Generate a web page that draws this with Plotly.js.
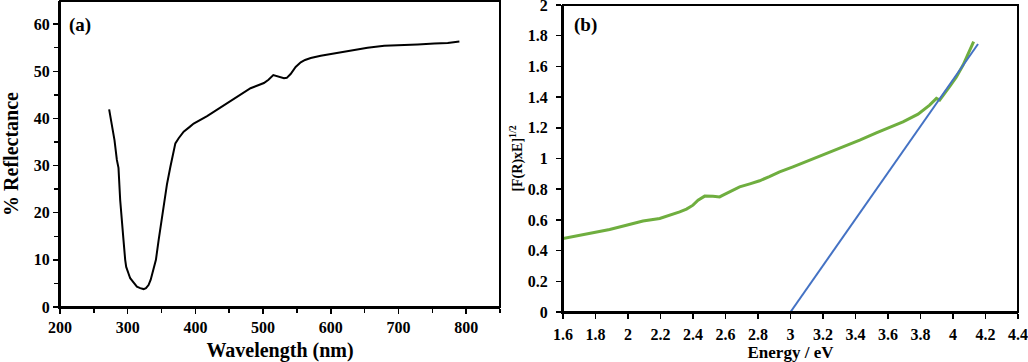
<!DOCTYPE html>
<html>
<head>
<meta charset="utf-8">
<script src="https://cdn.plot.ly/plotly-3.0.1.min.js"></script>
<style>html,body{margin:0;padding:0;background:#fff;}#chart{width:1028px;height:362px;}</style>
</head>
<body>
<div id="chart"></div>
<script>
// Panel (a): diffuse reflectance spectrum
const wavelength = [272.6, 280.5, 284, 286.4, 288.9, 290.5, 293.8, 296.3, 297.8, 301.2, 303.7, 308.6, 313.6, 318.5, 323.5, 327, 330.8, 334, 338.2, 341.7, 345.7, 349.5, 353, 358, 363, 367, 370.4, 375.3, 382.7, 391.6, 397.5, 417.3, 446.9, 466.7, 481.5, 501.2, 508, 515.1, 523.5, 530.9, 535, 540.7, 548.1, 555.6, 562, 570.4, 585.2, 604.9, 629.6, 654.3, 679, 703.7, 728.4, 753.1, 772.8, 790];
const reflectance = [41.9, 35.4, 31.2, 29.5, 22.7, 19.2, 14.2, 10.0, 8.5, 7.1, 6.1, 5.2, 4.3, 4.0, 3.8, 4.0, 4.66, 5.8, 7.8, 10.0, 14.2, 17.8, 21.3, 26.0, 29.7, 32.8, 34.7, 35.8, 37.2, 38.2, 38.9, 40.5, 43.2, 44.9, 46.4, 47.5, 48.2, 49.2, 48.8, 48.5, 48.6, 49.4, 50.9, 51.9, 52.4, 52.8, 53.3, 53.8, 54.5, 55.0, 55.4, 55.5, 55.7, 55.9, 56.0, 56.3];

// Panel (b): Kubelka-Munk plot
const energy = [1.6, 1.682, 1.785, 1.887, 1.99, 2.092, 2.195, 2.277, 2.318, 2.36, 2.4, 2.431, 2.472, 2.523, 2.564, 2.585, 2.636, 2.687, 2.75, 2.81, 2.87, 2.933, 3.015, 3.118, 3.221, 3.323, 3.426, 3.528, 3.631, 3.692, 3.785, 3.856, 3.898, 3.918, 3.98, 4.02, 4.062, 4.103, 4.127];
const kmValue = [0.478, 0.496, 0.515, 0.537, 0.565, 0.593, 0.609, 0.635, 0.652, 0.67, 0.696, 0.728, 0.755, 0.754, 0.75, 0.761, 0.789, 0.815, 0.835, 0.855, 0.882, 0.913, 0.946, 0.989, 1.033, 1.076, 1.12, 1.167, 1.211, 1.239, 1.289, 1.348, 1.392, 1.381, 1.47, 1.53, 1.609, 1.707, 1.761];
const fitEnergy = [3.0, 4.154];
const fitValue = [0.0, 1.746];

const fontFam = '"Liberation Serif", "Times New Roman", serif';

const traces = [
  {x: wavelength, y: reflectance, xaxis: 'x', yaxis: 'y', mode: 'lines',
   line: {color: '#000000', width: 2}, showlegend: false},
  {x: energy, y: kmValue, xaxis: 'x2', yaxis: 'y2', mode: 'lines',
   line: {color: '#6fae3f', width: 3}, showlegend: false},
  {x: fitEnergy, y: fitValue, xaxis: 'x2', yaxis: 'y2', mode: 'lines',
   line: {color: '#4472c4', width: 2}, showlegend: false}
];

function bf(size) { return {family: fontFam, size: size, color: '#000', weight: 'bold'}; }
const W = 1028, H = 362;

function axisBase() {
  return {
    ticks: 'outside', ticklen: 5, tickwidth: 1.5, tickcolor: '#000',
    showline: true, linecolor: '#000', linewidth: 2, mirror: false,
    showgrid: false, zeroline: false, tickfont: bf(16),
    ticklabeloverflow: 'allow'
  };
}

const layout = {
  width: W, height: H,
  margin: {l: 0, r: 0, t: 0, b: 0},
  paper_bgcolor: '#fff', plot_bgcolor: '#fff',
  font: {family: fontFam, color: '#000'},
  showlegend: false,
  xaxis: Object.assign(axisBase(), {
    domain: [60 / W, 500 / W], range: [200, 850], anchor: 'y',
    dtick: 100, tick0: 200,
    minor: {dtick: 50, ticks: 'outside', ticklen: 4, tickwidth: 1.5, tickcolor: '#000'},
    title: {text: 'Wavelength (nm)', font: bf(20)}
  }),
  yaxis: Object.assign(axisBase(), {
    domain: [1 - 307 / H, 1 - 1 / H], range: [0, 64.9], anchor: 'x',
    dtick: 10, tick0: 0,
    minor: {dtick: 5, ticks: 'outside', ticklen: 4, tickwidth: 1.5, tickcolor: '#000'},
    title: {text: '% Reflectance', font: bf(20)}
  }),
  xaxis2: Object.assign(axisBase(), {
    domain: [563 / W, 1018 / W], range: [1.6, 4.4], anchor: 'y2',
    dtick: 0.2, tick0: 1.6, ticklabelstandoff: 2,
    title: {text: 'Energy / eV', font: bf(17), standoff: 2}
  }),
  yaxis2: Object.assign(axisBase(), {
    domain: [1 - 312 / H, 1 - 5 / H], range: [0, 2], anchor: 'x2',
    dtick: 0.2, tick0: 0, ticklabelstandoff: 5,
    title: {text: '[F(R)xE]<sup>1/2</sup>', font: bf(14)}
  }),
  shapes: [
    {type: 'rect', xref: 'x domain', yref: 'y domain', x0: 0, x1: 1, y0: 0, y1: 1,
     line: {color: '#000', width: 2}, fillcolor: 'rgba(0,0,0,0)', layer: 'above'},
    {type: 'rect', xref: 'x2 domain', yref: 'y2 domain', x0: 0, x1: 1, y0: 0, y1: 1,
     line: {color: '#000', width: 2}, fillcolor: 'rgba(0,0,0,0)', layer: 'above'}
  ],
  annotations: [
    {text: '(a)', xref: 'paper', yref: 'paper', x: 80 / W, y: 1 - 25 / H,
     xanchor: 'center', yanchor: 'middle', showarrow: false, font: bf(19)},
    {text: '(b)', xref: 'paper', yref: 'paper', x: 585 / W, y: 1 - 25 / H,
     xanchor: 'center', yanchor: 'middle', showarrow: false, font: bf(19)}
  ]
};

Plotly.newPlot('chart', traces, layout, {staticPlot: true, displayModeBar: false});
</script>
</body>
</html>
